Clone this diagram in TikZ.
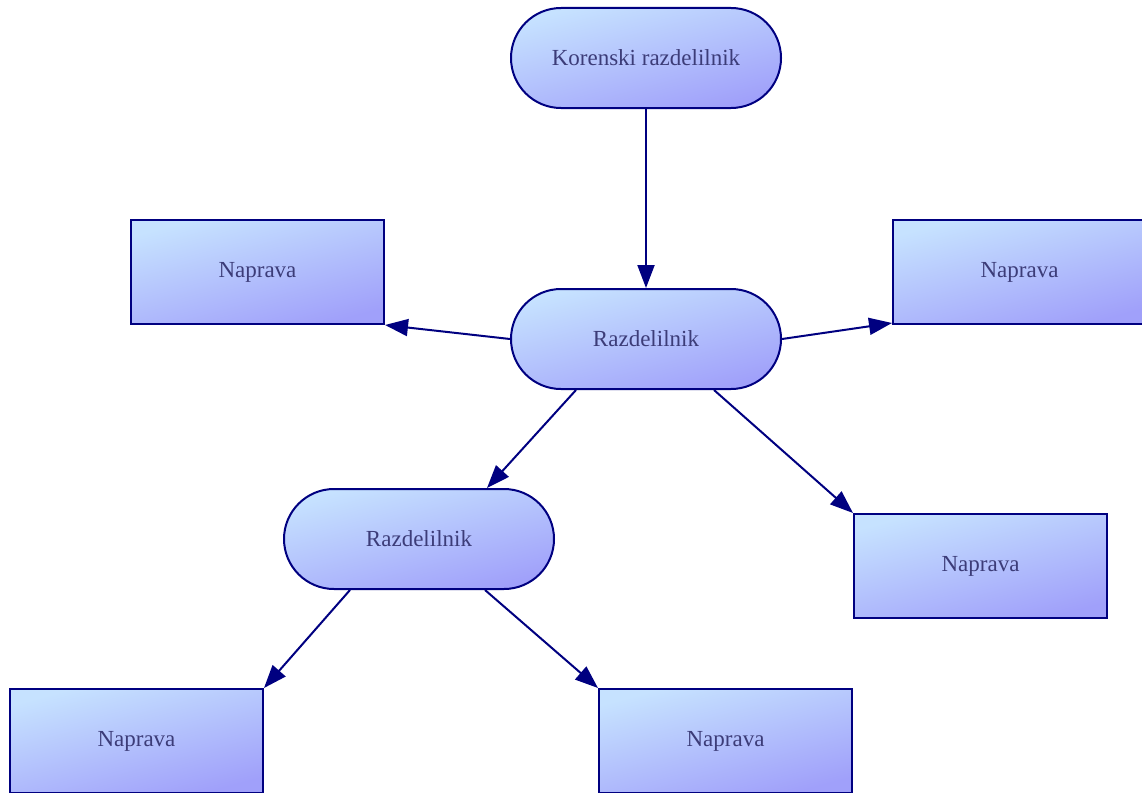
\documentclass[tikz,border=0pt]{standalone}
\usepackage{fontspec}
\setmainfont{Liberation Serif}
\usetikzlibrary{arrows.meta,calc}
\definecolor{lite}{RGB}{198,226,255}
\definecolor{dark}{RGB}{160,160,250}
\definecolor{edgec}{RGB}{0,0,128}
\definecolor{txt}{RGB}{60,60,120}
\tikzset{
 base/.style={draw=edgec, line width=2pt, top color=lite, bottom color=dark, shading angle=15, text=txt, font=\fontsize{23}{28}\selectfont, inner sep=0pt},
 hub/.style={base, rounded corners=50pt, minimum width=270pt, minimum height=100pt},
 dev/.style={base, minimum width=253pt, minimum height=104pt},
 link/.style={draw=edgec, line width=2pt, -{Triangle[length=23pt,width=17pt]}}
}
\begin{document}
\begin{tikzpicture}[x=1pt,y=-1pt]
\useasboundingbox (0,0) rectangle (1142,792);
\clip (0,0) rectangle (1142,792);
\node[hub] (root) at (646,58) {Korenski razdelilnik};
\node[hub] (mid) at (646,339) {Razdelilnik};
\node[hub] (lh) at (419,539) {Razdelilnik};
\node[dev] (tl) at (257.5,272) {Naprava};
\node[dev] (tr) at (1019.5,272) {Naprava};
\node[dev] (rb) at (980.5,566) {Naprava};
\node[dev] (bl) at (136.5,741) {Naprava};
\node[dev] (bm) at (725.5,741) {Naprava};
\draw[link] (root.south) -- (mid.north);
\draw[link] (mid.west) -- (tl.south east);
\draw[link] (mid.east) -- ($(tr.south west)+(0,-2)$);
\draw[link] ($(mid.south)+(-70,0)$) -- ($(lh.north)+(68,0)$);
\draw[link] ($(mid.south)+(68,0)$) -- (rb.north west);
\draw[link] ($(lh.south)+(-69,0)$) -- (bl.north east);
\draw[link] ($(lh.south)+(66,0)$) -- (bm.north west);
\end{tikzpicture}
\end{document}
